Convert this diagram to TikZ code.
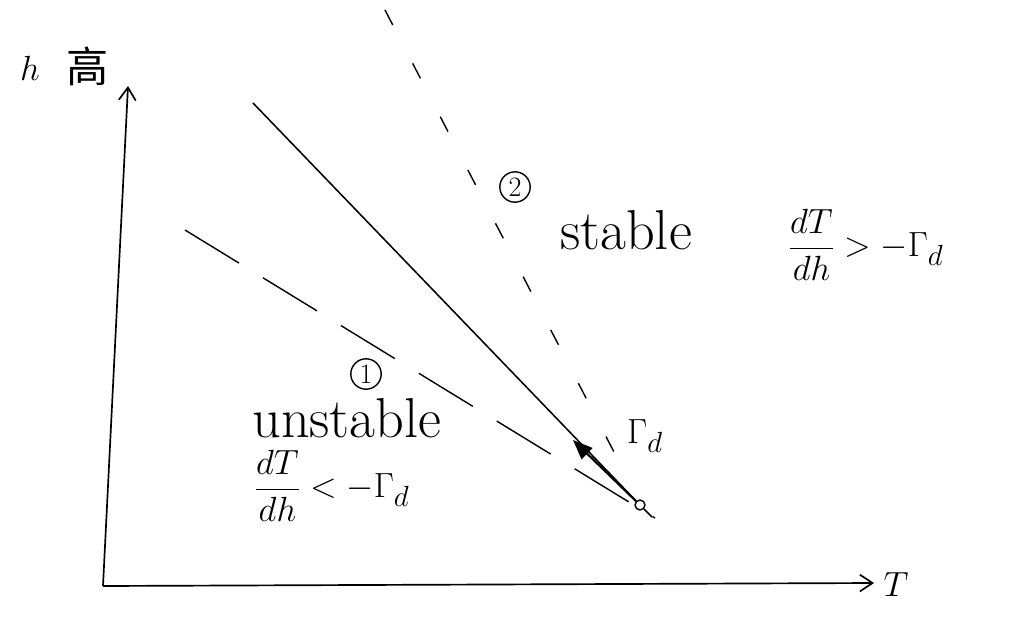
\documentclass[tikz,border=0pt]{standalone}
\usepackage{amsmath}
\usepackage{fontspec}
\newfontfamily\cjk{Noto Sans CJK SC}
\usetikzlibrary{arrows.meta}
\begin{document}
\begin{tikzpicture}[x=0.025cm,y=-0.025cm,
  lbl/.style={inner sep=1pt,font=\fontsize{28}{32}\selectfont},
  word/.style={inner sep=0pt,font=\fontsize{40}{44}\selectfont},
  axis/.style={line width=1.2pt,-{Straight Barb[length=9pt,width=12pt]}},
  longdash/.style={line width=1pt,dash pattern=on 45pt off 20pt},
  shortdash/.style={line width=1pt,dash pattern=on 12pt off 30.7pt},
  circ/.style={circle,draw,line width=1pt,inner sep=2pt,font=\fontsize{20}{22}\selectfont}]
\useasboundingbox (0,0) rectangle (1022,633);
\coordinate (O) at (103,586);
\coordinate (ytop) at (128,86);
\coordinate (xend) at (874,583);
\draw[axis] (O) -- (ytop);
\draw[axis] (O) -- (xend);
\node[lbl] (hlab) at (30,68) {$h$};
\node[inner sep=1pt,font=\fontsize{30}{32}\selectfont] (gao) at (88,66) {\cjk 高};
\node[lbl] (Tlab) at (896,585) {$T$};
% dashed lines
\coordinate (d1a) at (185,230);
\coordinate (d1b) at (655,518);
\draw[longdash] (d1a) -- (d1b);
\coordinate (d2a) at (385,10);
\coordinate (d2b) at (614,452);
\draw[shortdash] (d2a) -- (d2b);
% solid line with arrow
\coordinate (s1) at (253,103);
\coordinate (mid) at (573,440);
\node[circle,draw,line width=1pt,inner sep=2.5pt] (dot) at (640,505) {};
\coordinate (s2) at (652,517);
\draw[line width=1.1pt] (s1) -- (dot);
\draw[line width=1.1pt] (dot) -- (s2);
\draw[line width=1.5pt,-{Triangle[length=14pt,width=11pt]}] (dot) -- (mid);
% labels
\node[circ] (c2) at (515,187) {2};
\node[circ] (c1) at (366,374) {1};
\node[word,anchor=west] (stable) at (560,230) {stable};
\node[lbl] (frac2) at (866,245) {$\dfrac{dT}{dh}>-\Gamma_d$};
\node[word,anchor=west] (unstable) at (252,418) {unstable};
\node[lbl] (frac1) at (332,486) {$\dfrac{dT}{dh}<-\Gamma_d$};
\node[lbl] (gd) at (645,436) {$\Gamma_d$};
\end{tikzpicture}
\end{document}
